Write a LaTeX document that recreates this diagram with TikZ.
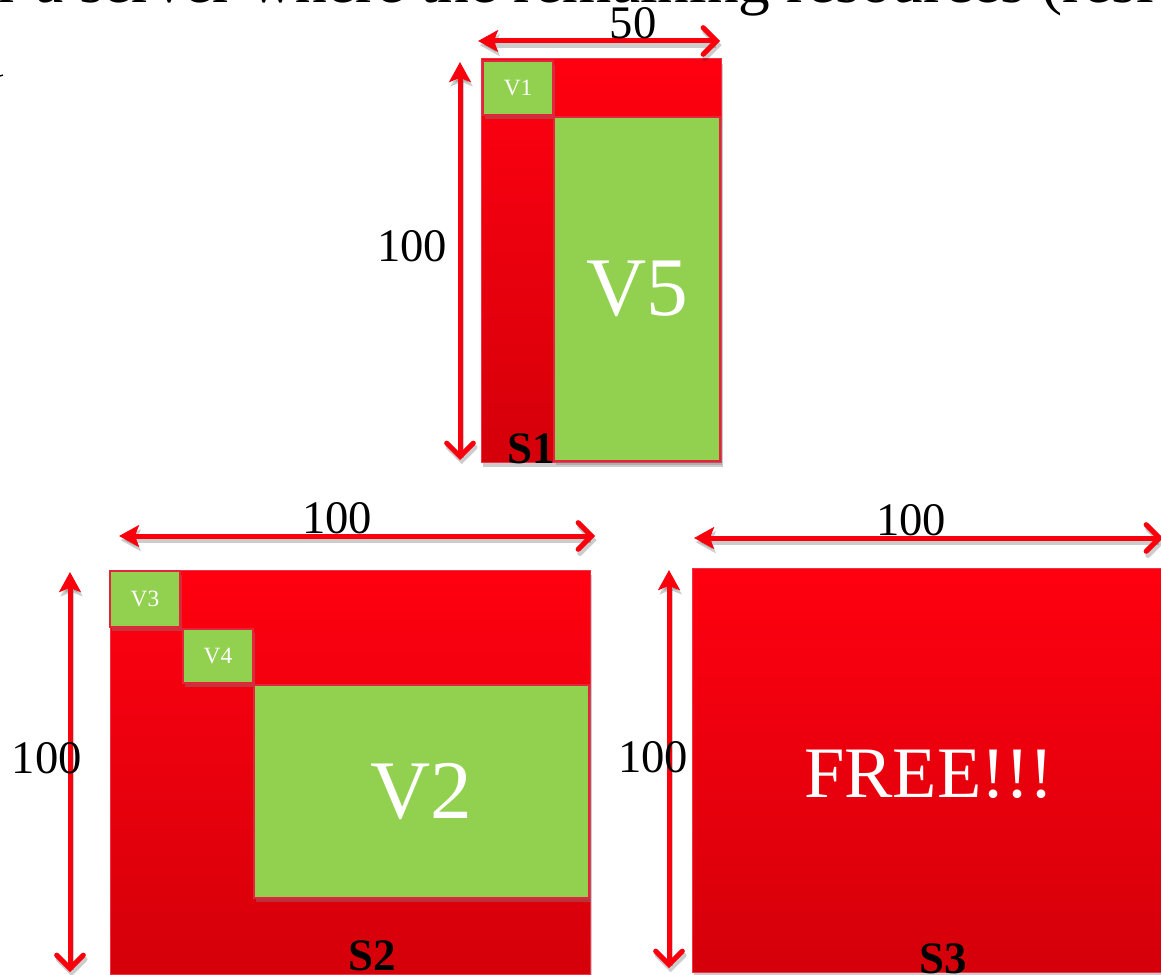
\documentclass[tikz,border=0pt]{standalone}
\usepackage{fontspec}
\setmainfont{Liberation Serif}
\usetikzlibrary{arrows.meta,shadows}

\definecolor{srvtop}{RGB}{255,0,16}
\definecolor{srvbot}{RGB}{212,0,10}
\definecolor{srvedge}{RGB}{240,50,70}
\definecolor{vmgreen}{RGB}{146,208,80}
\definecolor{vmedge}{RGB}{228,36,60}
\definecolor{dimred}{RGB}{250,0,12}

\begin{document}
\begin{tikzpicture}[x=0.6pt,y=-0.6pt,
  server/.style={rectangle, inner sep=0pt, top color=srvtop, bottom color=srvbot,
    draw=srvedge, line width=0.6pt,
    drop shadow={shadow xshift=1pt, shadow yshift=-3pt, opacity=0.4}},
  vm/.style={rectangle, inner sep=0pt, fill=vmgreen, draw=vmedge, line width=1pt,
    text=white,
    drop shadow={shadow xshift=1pt, shadow yshift=-2.5pt, opacity=0.4}},
  smallvm/.style={font=\fontsize{14}{16}\selectfont},
  bigvm/.style={font=\fontsize{50}{52}\selectfont},
  dim/.style={draw=dimred, line width=3pt,
    {Stealth[length=12pt,width=13pt,inset=2.5pt]}-{Straight Barb[length=8pt,width=16pt,line cap=round]},
    preaction={draw=black, opacity=0.2, line width=3pt,
      transform canvas={xshift=1pt, yshift=-2.5pt}}},
  dimlabel/.style={font=\fontsize{28}{30}\selectfont, inner sep=0pt, anchor=base},
  slabel/.style={font=\fontsize{27}{29}\selectfont\bfseries, inner sep=0pt, anchor=base}
]
\useasboundingbox (0,0) rectangle (1161,974);
\clip (0,0) rectangle (1161,974);

% heading line running off the top edge
\node[anchor=base west, inner sep=0pt, font=\fontsize{38}{40}\selectfont] (heading)
  at (-2,3) {r a server where the remaining resources (resi};
\draw[line width=0.8pt] (0,76) -- (3,75);

% ---------- server S1 (50 x 100) ----------
\node[server, minimum width=144pt, minimum height=241.8pt] (s1) at (601,260.5) {};
\node[slabel, anchor=base west] (s1lab) at (507,463) {S1};
\node[vm, smallvm, minimum width=42pt, minimum height=32.4pt] (v1) at (518,88) {V1};
\node[vm, bigvm, minimum width=99.6pt, minimum height=206.4pt] (v5) at (637,289) {V5};

\coordinate (s1wl) at (478,41);
\coordinate (s1wr) at (720,41);
\coordinate (s1ht) at (460,62);
\coordinate (s1hb) at (460,460);
\draw[dim] (s1wl) -- (s1wr);
\draw[dim] (s1ht) -- (s1hb);
\node[dimlabel] (s1w) at (633,39) {50};
\node[dimlabel] (s1h) at (412,262) {100};

% ---------- server S2 (100 x 100) ----------
\node[server, minimum width=288pt, minimum height=242.4pt] (s2) at (350,772) {};
\node[slabel] (s2lab) at (372,970) {S2};
\node[vm, smallvm, minimum width=42pt, minimum height=33.6pt] (v3) at (145,599) {V3};
\node[vm, smallvm, minimum width=42pt, minimum height=32.4pt] (v4) at (218,656) {V4};
\node[vm, bigvm, minimum width=201pt, minimum height=127.8pt] (v2) at (421.5,791.5) {V2};

\coordinate (s2wl) at (119,536);
\coordinate (s2wr) at (595,536);
\coordinate (s2ht) at (70,572);
\coordinate (s2hb) at (70,972);
\draw[dim] (s2wl) -- (s2wr);
\draw[dim] (s2ht) -- (s2hb);
\node[dimlabel] (s2w) at (337,533) {100};
\node[dimlabel] (s2h) at (47,773) {100};

% ---------- server S3 (100 x 100, empty) ----------
\node[server, minimum width=288pt, minimum height=242.4pt] (s3) at (932,770) {};
\node[anchor=base, inner sep=0pt, text=white, font=\fontsize{43.5}{46}\selectfont] (free)
  at (929,797) {FREE!!!};
\node[slabel] (s3lab) at (943,973) {S3};

\coordinate (s3wl) at (694,538);
\coordinate (s3wr) at (1163,538);
\coordinate (s3ht) at (669,570);
\coordinate (s3hb) at (669,968);
\draw[dim] (s3wl) -- (s3wr);
\draw[dim] (s3ht) -- (s3hb);
\node[dimlabel] (s3w) at (911,535) {100};
\node[dimlabel] (s3h) at (653,772) {100};
\end{tikzpicture}
\end{document}
